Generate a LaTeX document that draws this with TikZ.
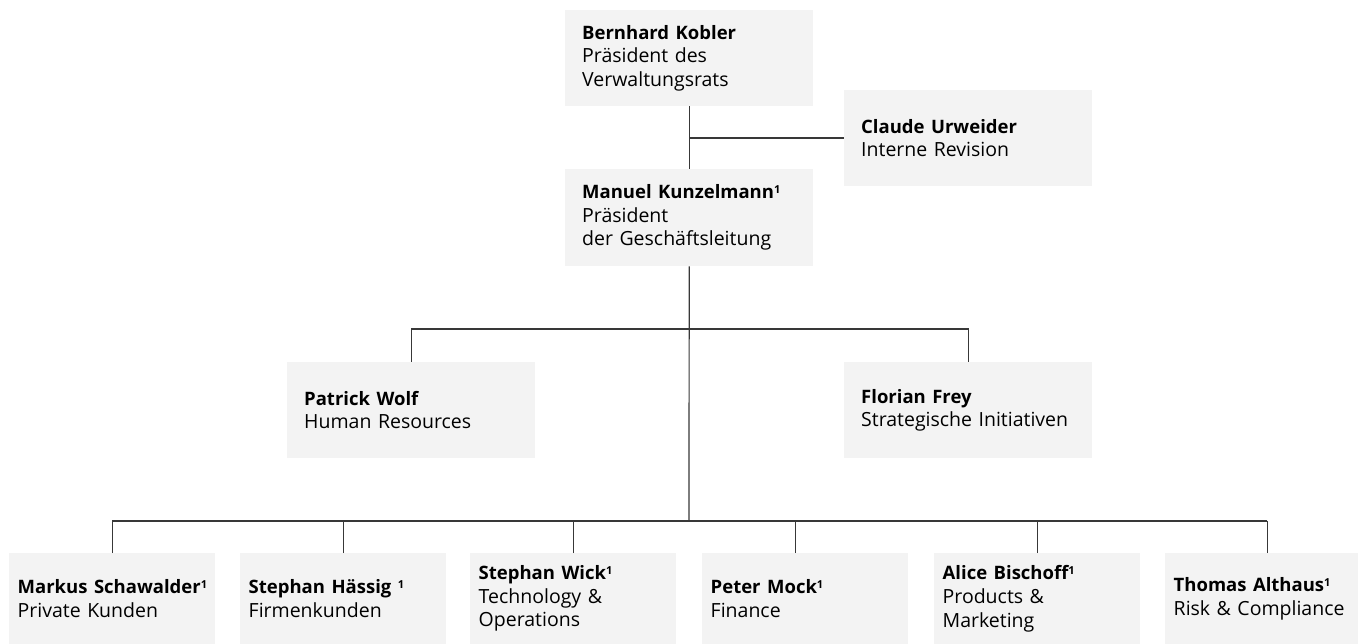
\documentclass[tikz,border=0pt]{standalone}
\usepackage{fontspec}
\setmainfont{Open Sans}
\definecolor{boxgray}{HTML}{F3F3F3}
\definecolor{linegray}{HTML}{383838}
\newcommand\supone{\raisebox{0.55ex}{\fontsize{11}{11}\selectfont 1}}
\newcommand\nm[1]{{\fontsize{18.5}{23.6}\selectfont\textbf{#1}}}
\begin{document}
\begin{tikzpicture}[x=1pt,y=-1pt,
  every node/.style={font=\fontsize{19.5}{23.6}\selectfont},
  bigbox/.style={fill=boxgray, inner xsep=17pt, inner ysep=0pt, text width=214pt,
    align=left, anchor=north west, minimum height=96pt},
  smallbox/.style={fill=boxgray, inner xsep=8.5pt, inner ysep=0pt, text width=189pt,
    align=left, anchor=north west, minimum height=91pt},
  conn/.style={draw=linegray, line width=1.2pt}]
\useasboundingbox (0,0) rectangle (1358,644);

\node[bigbox] (kob) at (565,10) {\nm{Bernhard Kobler}\\Präsident des\\Verwaltungsrats};
\node[bigbox] (urw) at (844,90) {\nm{Claude Urweider}\\Interne Revision};
\node[bigbox, minimum height=97pt] (kun) at (565,169) {\nm{Manuel Kunzelmann\supone}\\Präsident\\der Geschäftsleitung};
\node[bigbox] (wolf) at (287,362) {\nm{Patrick Wolf}\\Human Resources};
\node[bigbox] (frey) at (844,362) {\nm{Florian Frey}\\\mbox{Strategische Initiativen}};

\node[smallbox] (schaw) at (9,553) {\mbox{\nm{Markus Schawalder\supone}}\\Private Kunden};
\node[smallbox] (haes) at (240,553) {\mbox{\nm{Stephan Hässig \supone}}\\Firmenkunden};
\node[smallbox] (wick) at (470,553) {\mbox{\nm{Stephan Wick\supone}}\\Technology \&\\Operations};
\node[smallbox] (mock) at (702,553) {\mbox{\nm{Peter Mock\supone}}\\Finance};
\node[smallbox] (bisch) at (934,553) {\mbox{\nm{Alice Bischoff\supone}}\\Products \&\\Marketing};
\node[smallbox, text width=176pt] (alth) at (1165,553) {\mbox{\nm{Thomas Althaus\supone}}\\\mbox{Risk \& Compliance}};

% top connectors
\draw[conn] (kob.south) -- (kun.north);
\coordinate (j1) at (689,138);
\draw[conn] (j1) -- (j1 -| urw.west);

% middle
\coordinate (b1) at (689,329);
\coordinate (b2) at (689,521);
\draw[conn] (kun.south) -- (b2);
\draw[conn] (wolf.north) |- (b1) -| (frey.north);

% bottom bus
\coordinate (busL) at (112,521);
\coordinate (busR) at (1267,521);
\draw[conn] (busL) -- (busR);
\draw[conn] (schaw.north) -- (schaw.north |- busL);
\draw[conn] (haes.north) -- (haes.north |- busL);
\draw[conn] (wick.north) -- (wick.north |- busL);
\draw[conn] ([xshift=-10pt]mock.north) -- ([xshift=-10pt]mock.north |- busL);
\draw[conn] (bisch.north) -- (bisch.north |- busL);
\draw[conn] ([xshift=5.5pt]alth.north) -- ([xshift=5.5pt]alth.north |- busR);
\end{tikzpicture}
\end{document}
